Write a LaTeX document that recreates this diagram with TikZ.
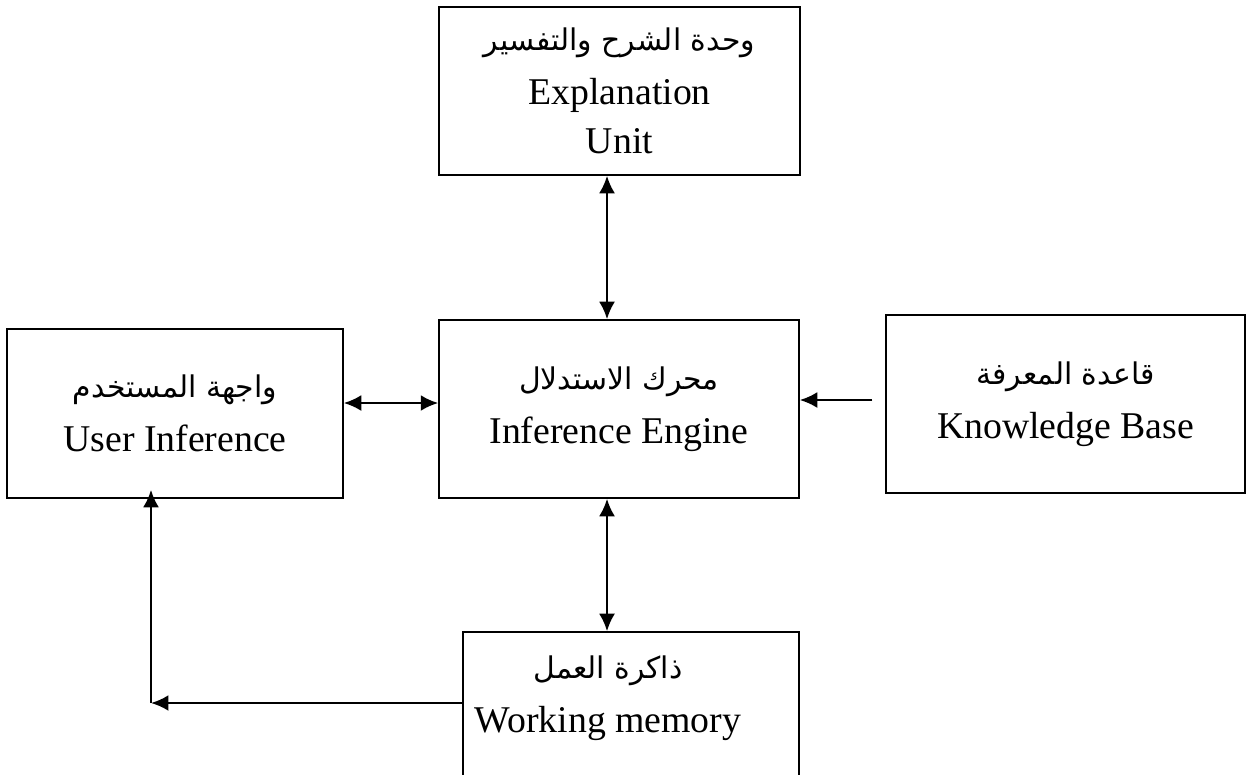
\documentclass[tikz,border=0pt]{standalone}
\usepackage{fontspec}
\setmainfont{Liberation Serif}
\newfontfamily\arabicfont[Script=Arabic]{DejaVu Sans}
\TeXXeTstate=1
\usetikzlibrary{arrows.meta,calc}
\newcommand{\artxt}[1]{{\arabicfont\fontsize{17}{24}\selectfont\beginR #1\endR}}
\begin{document}
\begin{tikzpicture}[x=0.02cm,y=-0.02cm,
 font=\fontsize{21.5}{26}\selectfont,
 box/.style={draw,line width=0.9pt,align=center,inner sep=0pt},
 link/.style={line width=1.4pt,-{Latex[length=3.5mm,width=3.2mm]}},
 dlink/.style={link,{Latex[length=3.5mm,width=3.2mm]}-{Latex[length=3.5mm,width=3.2mm]}}]
\clip (0,0) rectangle (1246,774);
\fill[white] (0,0) rectangle (1246,774);
\node[box,minimum width=7.22cm,minimum height=3.36cm] (expl) at (619.5,91)
 {\artxt{وحدة الشرح والتفسير}\\[5pt] Explanation\\[2pt] Unit};
\node[box,minimum width=7.2cm,minimum height=3.56cm] (eng) at (619,409)
 {\artxt{محرك الاستدلال}\\[5pt] Inference Engine};
\node[box,minimum width=6.72cm,minimum height=3.38cm] (user) at (175,413.5)
 {\artxt{واجهة المستخدم}\\[5pt] User Inference};
\node[box,minimum width=7.18cm,minimum height=3.56cm] (kb) at (1065.5,404)
 {\artxt{قاعدة المعرفة}\\[5pt] Knowledge Base};
\node[box,minimum width=6.72cm,minimum height=3.4cm] (wm) at (631,717) {};
\node[align=center] (wmtxt) at (608,698)
 {\artxt{ذاكرة العمل}\\[5pt] Working memory};
\coordinate (bend) at (151,703);
% connectors
\draw[dlink] ([xshift=-.25cm]expl.south) -- ([xshift=-.25cm]expl.south |- eng.north);
\draw[dlink] ([yshift=.21cm]user.east) -- ([yshift=.21cm]user.east -| eng.west);
\draw[link] ([xshift=-.26cm,yshift=.08cm]kb.west) -- ([yshift=.08cm]kb.west -| eng.east);
\draw[dlink] ([xshift=-.24cm]eng.south) -- ([xshift=-.24cm]eng.south |- wm.north);
\draw[link] (wm.west |- bend) -- (bend);
\draw[link] (bend) -- ([yshift=.18cm]bend |- user.south);
\end{tikzpicture}
\end{document}
